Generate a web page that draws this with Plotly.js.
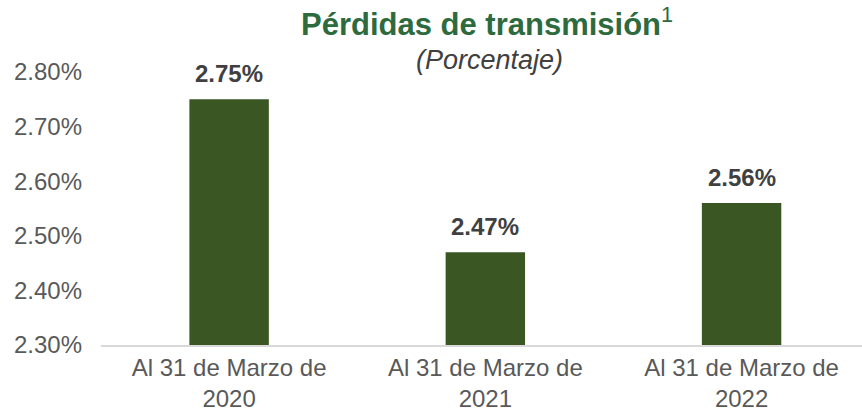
<!DOCTYPE html>
<html>
<head>
<meta charset="utf-8">
<script src="https://cdn.plot.ly/plotly-3.0.1.min.js"></script>
<style>html,body{margin:0;padding:0;background:#fff;}#chart{width:862px;height:419px;}</style>
</head>
<body>
<div id="chart"></div>
<script>
const categories = ["Al 31 de Marzo de<br>2020", "Al 31 de Marzo de<br>2021", "Al 31 de Marzo de<br>2022"];
const values = [2.75, 2.47, 2.56];
const valueLabels = ["2.75%", "2.47%", "2.56%"];
const yTicks = [2.3, 2.4, 2.5, 2.6, 2.7, 2.8];
const yTickLabels = ["2.30%", "2.40%", "2.50%", "2.60%", "2.70%", "2.80%"];

const font = "Liberation Sans, Arial, sans-serif";
const xPos = categories.map((c, i) => i);

const trace = {
  type: "bar",
  x: xPos,
  y: values,
  width: 0.31,
  marker: {color: "#3a5623", line: {width: 0}},
  hoverinfo: "skip"
};

const annotations = values.map((v, i) => ({
  x: xPos[i], y: v, xref: "x", yref: "y",
  text: "<b>" + valueLabels[i] + "</b>",
  showarrow: false, yanchor: "bottom", yshift: 10,
  font: {family: font, size: 24, color: "#404040"}
}));

annotations.push({
  xref: "paper", yref: "paper", x: 0.507, y: 1, yshift: 50,
  xanchor: "center", yanchor: "middle",
  text: "<b>Pérdidas de transmisión</b><sup style='font-weight:normal'>1</sup>",
  showarrow: false,
  font: {family: font, size: 31, color: "#2d6a3e"}
});
annotations.push({
  xref: "paper", yref: "paper", x: 0.51, y: 1, yshift: 12,
  xanchor: "center", yanchor: "middle",
  text: "<i>(Porcentaje)</i>",
  showarrow: false,
  font: {family: font, size: 27, color: "#404040"}
});

const layout = {
  width: 862, height: 419,
  margin: {l: 101, r: 0, t: 72, b: 74},
  paper_bgcolor: "#fff", plot_bgcolor: "#fff",
  showlegend: false,
  font: {family: font, size: 24, color: "#595959"},
  xaxis: {
    range: [-0.5, 2.47],
    tickvals: xPos, ticktext: categories,
    showline: true, linecolor: "#d9d9d9", linewidth: 2,
    showgrid: false, zeroline: false, ticks: "",
    tickfont: {family: font, size: 24, color: "#595959"},
    fixedrange: true
  },
  yaxis: {
    range: [2.3, 2.8],
    tickvals: yTicks, ticktext: yTickLabels,
    showline: false, showgrid: false, zeroline: false, ticks: "",
    ticklabelstandoff: 18,
    tickfont: {family: font, size: 24, color: "#595959"},
    fixedrange: true
  },
  annotations: annotations
};

Plotly.newPlot("chart", [trace], layout, {displayModeBar: false, staticPlot: true});
</script>
</body>
</html>
